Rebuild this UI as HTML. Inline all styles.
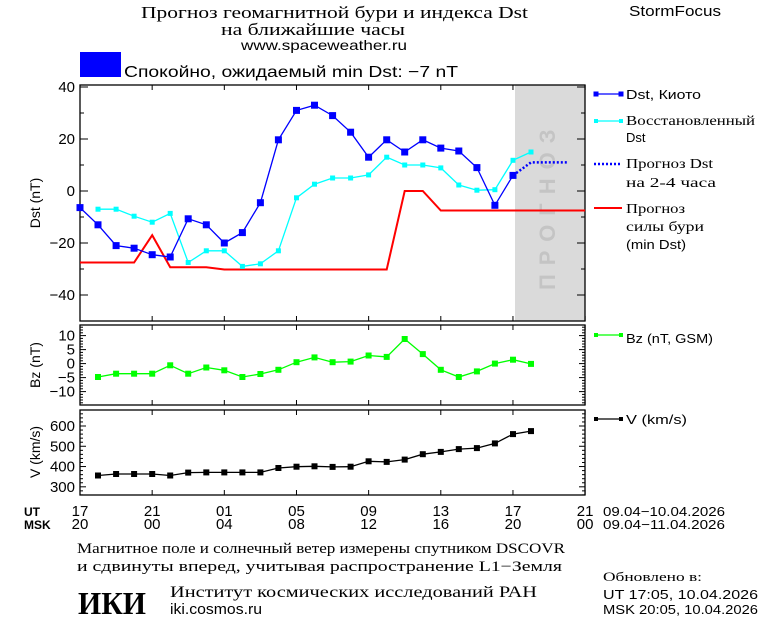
<!DOCTYPE html>
<html><head><meta charset="utf-8"><style>
html,body{margin:0;padding:0;background:#fff;}
svg{display:block;font-family:"Liberation Sans","DejaVu Sans",sans-serif;}
.s{font-family:"Liberation Serif","DejaVu Serif",serif;}
</style></head><body>
<svg id="c" width="760" height="620" viewBox="0 0 760 620" xmlns="http://www.w3.org/2000/svg">
<rect width="760" height="620" fill="#fff"/>
<g lengthAdjust="spacingAndGlyphs">
<text class="s" x="141" y="18" font-size="17" textLength="387" lengthAdjust="spacingAndGlyphs">Прогноз геомагнитной бури и индекса Dst</text>
<text class="s" x="221" y="35" font-size="17" textLength="184" lengthAdjust="spacingAndGlyphs">на ближайшие часы</text>
<text x="241" y="50" font-size="14" textLength="166" lengthAdjust="spacingAndGlyphs">www.spaceweather.ru</text>
<text x="629" y="16" font-size="15" textLength="92" lengthAdjust="spacingAndGlyphs">StormFocus</text>
</g>
<rect x="80" y="52" width="41" height="25" fill="#0000ff"/>
<text x="124" y="77" font-size="16" textLength="334" lengthAdjust="spacingAndGlyphs">Спокойно, ожидаемый min Dst: −7 nT</text>
<rect x="515" y="85" width="70" height="236" fill="#dadada"/>
<text x="0" y="0" font-size="22" font-weight="bold" fill="#c4c4c4" letter-spacing="9" transform="translate(555,290) rotate(-90)">ПРОГНОЗ</text>
<g id="g"></g>
<g font-size="13">
<text x="626" y="99" textLength="75" lengthAdjust="spacingAndGlyphs">Dst, Киото</text>
<text class="s" x="626" y="125" font-size="14" textLength="129" lengthAdjust="spacingAndGlyphs">Восстановленный</text>
<text x="626" y="142">Dst</text>
<text class="s" x="626" y="168" font-size="14" textLength="87" lengthAdjust="spacingAndGlyphs">Прогноз Dst</text>
<text class="s" x="626" y="187" font-size="14" textLength="90" lengthAdjust="spacingAndGlyphs">на 2-4 часа</text>
<text class="s" x="626" y="213" font-size="14" textLength="59" lengthAdjust="spacingAndGlyphs">Прогноз</text>
<text class="s" x="626" y="231" font-size="14" textLength="78" lengthAdjust="spacingAndGlyphs">силы бури</text>
<text x="626" y="249" textLength="60" lengthAdjust="spacingAndGlyphs">(min Dst)</text>
<text x="626" y="343" textLength="87" lengthAdjust="spacingAndGlyphs">Bz (nT, GSM)</text>
<text x="626" y="424" textLength="61" lengthAdjust="spacingAndGlyphs">V (km/s)</text>
</g>
<g font-size="14" text-anchor="middle">
<text transform="translate(40,203) rotate(-90)">Dst (nT)</text>
<text transform="translate(40,365) rotate(-90)">Bz (nT)</text>
<text transform="translate(40,452) rotate(-90)">V (km/s)</text>
</g>
<g font-size="13">
<text x="24" y="516" font-weight="bold" font-size="12">UT</text>
<text x="24" y="529" font-weight="bold" font-size="12">MSK</text>
<text x="603" y="516" textLength="122" lengthAdjust="spacingAndGlyphs">09.04−10.04.2026</text>
<text x="603" y="529" textLength="122" lengthAdjust="spacingAndGlyphs">09.04−11.04.2026</text>
<text class="s" x="77" y="553" font-size="15" textLength="488" lengthAdjust="spacingAndGlyphs">Магнитное поле и солнечный ветер измерены спутником DSCOVR</text>
<text class="s" x="77" y="571" font-size="15" textLength="485" lengthAdjust="spacingAndGlyphs">и сдвинуты вперед, учитывая распространение L1−Земля</text>
<text class="s" x="603" y="581" textLength="99" lengthAdjust="spacingAndGlyphs">Обновлено в:</text>
<text x="603" y="599" textLength="155" lengthAdjust="spacingAndGlyphs">UT   17:05, 10.04.2026</text>
<text x="603" y="614" textLength="155" lengthAdjust="spacingAndGlyphs">MSK 20:05, 10.04.2026</text>
<text class="s" x="78" y="614" font-size="32" font-weight="bold" textLength="68" lengthAdjust="spacingAndGlyphs">ИКИ</text>
<text class="s" x="170" y="597" font-size="16" textLength="367" lengthAdjust="spacingAndGlyphs">Институт космических исследований РАН</text>
<text x="170" y="614" font-size="15" textLength="92" lengthAdjust="spacingAndGlyphs">iki.cosmos.ru</text>
</g>
</svg>
<script>
var g=document.getElementById('g'),h='';
function X(t){return 80+t*18.04;}
function Yd(v){return 191-2.6*v;}
function Yb(v){return 363.6-2.8*v;}
function Yv(v){return 426-(v-600)*0.2027;}
function pl(pts,col,w,extra){return '<polyline fill="none" stroke="'+col+'" stroke-width="'+w+'" '+(extra||'')+' points="'+pts.map(p=>p[0].toFixed(1)+','+p[1].toFixed(1)).join(' ')+'"/>';}
function mk(pts,col,s){return pts.map(p=>'<rect x="'+(p[0]-s/2).toFixed(1)+'" y="'+(p[1]-s/2).toFixed(1)+'" width="'+s+'" height="'+s+'" fill="'+col+'"/>').join('');}
[[85,321],[325,405],[410,495]].forEach(function(r){
 h+='<rect x="80" y="'+r[0]+'" width="505" height="'+(r[1]-r[0])+'" fill="none" stroke="#000" stroke-width="1.3"/>';
 for(var t=0;t<=28;t+=4){var x=X(t);h+='<line x1="'+x+'" y1="'+r[0]+'" x2="'+x+'" y2="'+(r[0]+5)+'" stroke="#000"/><line x1="'+x+'" y1="'+r[1]+'" x2="'+x+'" y2="'+(r[1]-5)+'" stroke="#000"/>';}
});
for(var v=-50;v<=40;v+=10){var y=Yd(v);if(y<85||y>321)continue;var L=(v%20==0)?8:4;h+='<line x1="80" y1="'+y+'" x2="'+(80+L)+'" y2="'+y+'" stroke="#000"/><line x1="585" y1="'+y+'" x2="'+(585-L)+'" y2="'+y+'" stroke="#000"/>';if(v%20==0)h+='<text x="75" y="'+(y+5)+'" font-size="15" text-anchor="end">'+(v<0?'−'+(-v):v)+'</text>';}
for(var v=-14;v<=14;v++){var y=Yb(v);if(y<325||y>405)continue;var L=(v%5==0)?6:3;h+='<line x1="80" y1="'+y+'" x2="'+(80+L)+'" y2="'+y+'" stroke="#000"/><line x1="585" y1="'+y+'" x2="'+(585-L)+'" y2="'+y+'" stroke="#000"/>';if(v%5==0&&Math.abs(v)<=10)h+='<text x="75" y="'+(y+5)+'" font-size="15" text-anchor="end">'+(v<0?'−'+(-v):v)+'</text>';}
for(var v=260;v<=680;v+=20){var y=Yv(v);if(y<410||y>495)continue;var L=(v%100==0)?6:3;h+='<line x1="80" y1="'+y+'" x2="'+(80+L)+'" y2="'+y+'" stroke="#000"/><line x1="585" y1="'+y+'" x2="'+(585-L)+'" y2="'+y+'" stroke="#000"/>';if(v%100==0&&v>=300&&v<=600)h+='<text x="75" y="'+(y+5)+'" font-size="15" text-anchor="end">'+v+'</text>';}
var ut=['17','21','01','05','09','13','17','21'],ms=['20','00','04','08','12','16','20','00'];
for(var i=0;i<8;i++){var x=X(i*4);h+='<text x="'+x+'" y="516" font-size="15" text-anchor="middle">'+ut[i]+'</text><text x="'+x+'" y="529" font-size="15" text-anchor="middle">'+ms[i]+'</text>';}
var red=[[0,-27.5],[3,-27.5],[4,-17],[5,-29.3],[7,-29.3],[8,-30.2],[17,-30.2],[18,0],[19,0],[20,-7.5],[28,-7.5]].map(p=>[X(p[0]),Yd(p[1])]);
h+=pl(red,'#ff0000',2);
var cy=[-7,-7,-9.7,-12,-8.6,-27.5,-23,-23,-29,-28,-23,-2.6,2.6,5,5,6.2,13,10,10,8.9,2.3,0.3,0.5,11.8,15].map((v,i)=>[X(i+1),Yd(v)]);
h+=pl(cy,'#00ffff',1.3)+mk(cy,'#00ffff',5);
var ds=[-6.4,-13,-21,-22,-24.5,-25.4,-10.7,-13,-20,-16,-4.5,19.7,31,33,29,22.6,13,19.7,15,19.7,16.5,15.4,9,-5.5,6].map((v,i)=>[X(i),Yd(v)]);
h+=pl(ds,'#0000ff',1.3)+mk(ds,'#0000ff',7);
h+=pl([[X(24),Yd(6)],[X(25),Yd(11)],[X(27),Yd(11)]],'#0000ff',2.5,'stroke-dasharray="2,2"');
var bz=[-4.8,-3.6,-3.6,-3.6,-0.6,-3.6,-1.4,-2.4,-4.8,-3.7,-2.2,0.5,2.2,0.5,0.7,2.9,2.4,8.8,3.4,-2.2,-4.8,-2.8,0,1.4,-0.1].map((v,i)=>[X(i+1),Yb(v)]);
h+=pl(bz,'#00ff00',1.3)+mk(bz,'#00ff00',6);
var vv=[356,363,363,363,356,370,371,371,371,371,393,399,401,398,399,426,423,434,461,472,486,491,514,560,575].map((v,i)=>[X(i+1),Yv(v)]);
h+=pl(vv,'#000',1.3)+mk(vv,'#000',6);
h+=pl([[596,94],[621,94]],'#0000ff',1.3)+mk([[596,94],[621,94]],'#0000ff',5);
h+=pl([[596,121],[621,121]],'#00ffff',1.3)+mk([[596,121],[621,121]],'#00ffff',4);
h+=pl([[594,164],[622,164]],'#0000ff',2.5,'stroke-dasharray="2,2"');
h+=pl([[594,208],[622,208]],'#ff0000',2);
h+=pl([[596,335],[621,335]],'#00ff00',1.3)+mk([[596,335],[621,335]],'#00ff00',4);
h+=pl([[596,419],[621,419]],'#000',1.3)+mk([[596,419],[621,419]],'#000',4);
g.innerHTML=h;
</script>
</body></html>
